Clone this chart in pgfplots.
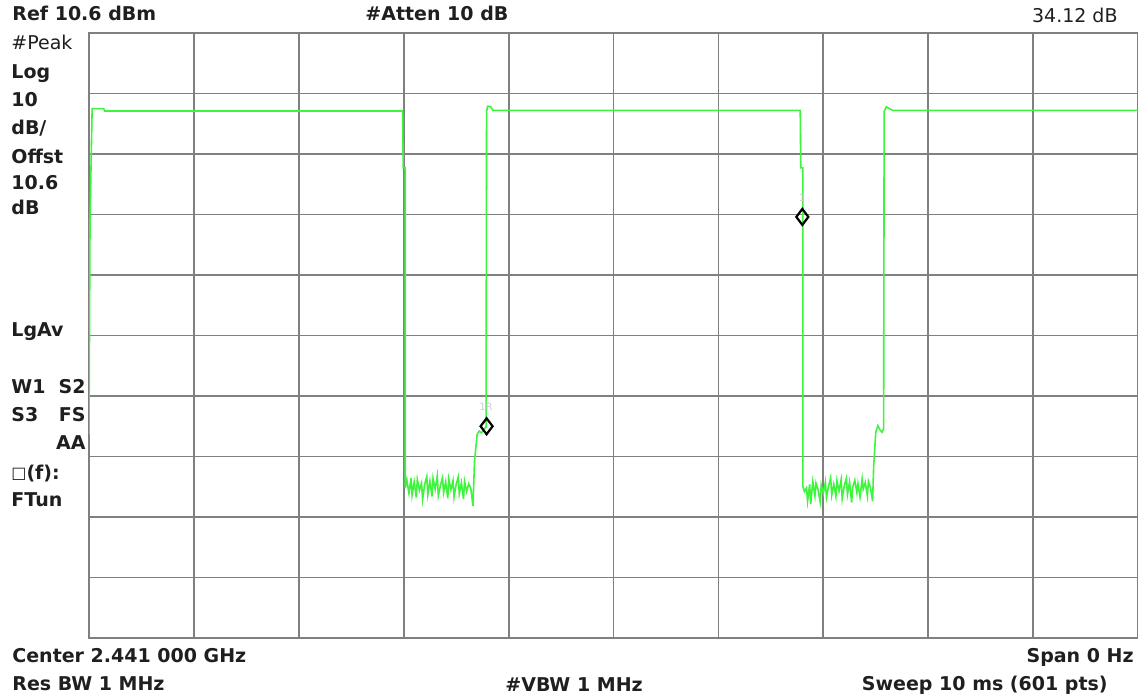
\documentclass[border=0pt]{standalone}
\usepackage{fontspec}
\setmainfont{DejaVu Sans}
\usepackage{pgfplots}
\pgfplotsset{compat=1.18}
\definecolor{trace}{RGB}{60,245,60}
\definecolor{gridc}{RGB}{128,128,128}
\definecolor{faint}{RGB}{205,205,205}
\begin{document}
\begin{tikzpicture}
\useasboundingbox (-44.5pt,-30pt) rectangle (524.5pt,319pt);
\begin{axis}[
  scale only axis, width=524.5pt, height=302.5pt,
  at={(0,0)}, anchor=south west,
  xmin=0, xmax=10, ymin=-89.4, ymax=10.6,
  xtick={0,1,2,3,4,5,6,7,8,9,10},
  ytick={-89.4,-79.4,-69.4,-59.4,-49.4,-39.4,-29.4,-19.4,-9.4,0.6,10.6},
  xticklabels={}, yticklabels={},
  major tick length=0pt,
  grid=major,
  grid style={gridc, line width=0.9pt},
  axis line style={gridc, line width=1.3pt},
]
\addplot[trace, line width=0.8pt] coordinates {
(0.000,-55.7) (0.010,-20.0) (0.030,-1.9) (0.140,-1.9) (0.150,-2.3) (2.990,-2.3)
(2.995,-11.7) (3.015,-11.7) (3.015,-64.6)
(3.030,-63.3) (3.050,-65.5) (3.070,-63.0) (3.080,-65.8) (3.100,-63.6) (3.120,-66.2)
(3.130,-63.2) (3.150,-65.0) (3.170,-63.8) (3.180,-66.5) (3.200,-64.0) (3.220,-62.7)
(3.230,-65.7) (3.250,-63.5) (3.270,-66.0) (3.280,-63.0) (3.300,-64.8) (3.320,-62.6)
(3.330,-65.9) (3.350,-64.2) (3.370,-62.9) (3.380,-65.4) (3.400,-63.6) (3.420,-66.3)
(3.430,-63.1) (3.450,-64.9) (3.470,-63.4) (3.480,-66.1) (3.500,-64.0) (3.520,-62.8)
(3.530,-65.6) (3.550,-63.7) (3.570,-66.4) (3.580,-63.5) (3.600,-65.2) (3.620,-63.9)
(3.640,-64.7) (3.660,-67.6) (3.675,-60.2) (3.700,-55.7) (3.720,-55.2) (3.740,-55.5)
(3.760,-55.0) (3.785,-54.5) (3.790,-2.4) (3.800,-1.5) (3.830,-1.6) (3.850,-2.2)
(6.780,-2.2) (6.785,-11.7) (6.805,-11.7) (6.805,-64.3)
(6.820,-65.2) (6.840,-64.6) (6.850,-66.8) (6.870,-64.0) (6.880,-67.2) (6.900,-63.5)
(6.920,-65.9) (6.930,-63.8) (6.950,-64.9) (6.970,-66.9) (6.980,-64.1) (7.000,-65.5)
(7.020,-63.6) (7.030,-66.2) (7.050,-64.3) (7.070,-62.9) (7.080,-65.8) (7.100,-64.0)
(7.120,-66.0) (7.130,-63.4) (7.150,-65.1) (7.170,-63.2) (7.180,-66.4) (7.200,-64.2)
(7.220,-63.0) (7.230,-65.7) (7.250,-63.6) (7.270,-67.0) (7.280,-64.5) (7.300,-63.3)
(7.320,-65.4) (7.330,-63.9) (7.350,-66.1) (7.370,-63.1) (7.380,-64.8) (7.400,-63.7)
(7.420,-65.9) (7.430,-63.5) (7.450,-64.6) (7.470,-66.8) (7.480,-61.0) (7.500,-55.4)
(7.520,-54.3) (7.540,-55.0) (7.560,-55.4) (7.575,-54.8) (7.580,-2.4) (7.600,-1.6)
(7.660,-2.2) (10.000,-2.2)
};
\addplot[only marks, mark=diamond, mark size=4pt, mark options={black, line width=1.1pt, fill=none}] coordinates {(3.79,-54.4) (6.80,-19.8)};
\end{axis}
\begin{scope}[every node/.style={inner sep=0pt, font=\fontsize{9.5}{11}\selectfont\bfseries, text=black!88}]
\node[anchor=base west] at (-38.5pt,308.75pt) {Ref 10.6 dBm};
\node[anchor=base west] at (138pt,308.75pt) {\#Atten 10 dB};
\node[anchor=base east, font=\fontsize{9.5}{11}\selectfont] at (514.5pt,307.75pt) {34.12 dB};
\node[anchor=base west, font=\fontsize{9.5}{11}\selectfont] at (-39pt,294.25pt) {\#Peak};
\node[anchor=base west] at (-39pt,279.75pt) {Log};
\node[anchor=base west] at (-39pt,265.75pt) {10};
\node[anchor=base west] at (-39pt,251.75pt) {dB/};
\node[anchor=base west] at (-39pt,237.25pt) {Offst};
\node[anchor=base west] at (-39pt,224.25pt) {10.6};
\node[anchor=base west] at (-39pt,211.75pt) {dB};
\node[anchor=base west] at (-39pt,150.75pt) {LgAv};
\node[anchor=base west] at (-39pt,122.25pt) {W1};
\node[anchor=base east] at (-1.5pt,122.25pt) {S2};
\node[anchor=base east] at (-1.5pt,108.25pt) {FS};
\node[anchor=base west] at (-39pt,108.25pt) {S3};
\node[anchor=base east] at (-1.5pt,94.25pt) {AA};
\node[anchor=base west] at (-39pt,79.25pt) {\raisebox{0.6pt}{\fontsize{8}{9}\selectfont □}(f):};
\node[anchor=base west] at (-39pt,65.75pt) {FTun};
\node[anchor=base west] at (-38.5pt,-12pt) {Center 2.441 000 GHz};
\node[anchor=base east] at (522.5pt,-12pt) {Span 0 Hz};
\node[anchor=base west] at (-38.5pt,-26pt) {Res BW 1 MHz};
\node[anchor=base west] at (208pt,-26.5pt) {\#VBW 1 MHz};
\node[anchor=base east] at (509.5pt,-26pt) {Sweep 10 ms (601 pts)};
\node[font=\fontsize{5}{6}\selectfont, text=faint] at (198.5pt,115.5pt) {1R};
\node[font=\fontsize{5}{6}\selectfont, text=faint] at (356.5pt,220pt) {1};
\end{scope}
\end{tikzpicture}
\end{document}
